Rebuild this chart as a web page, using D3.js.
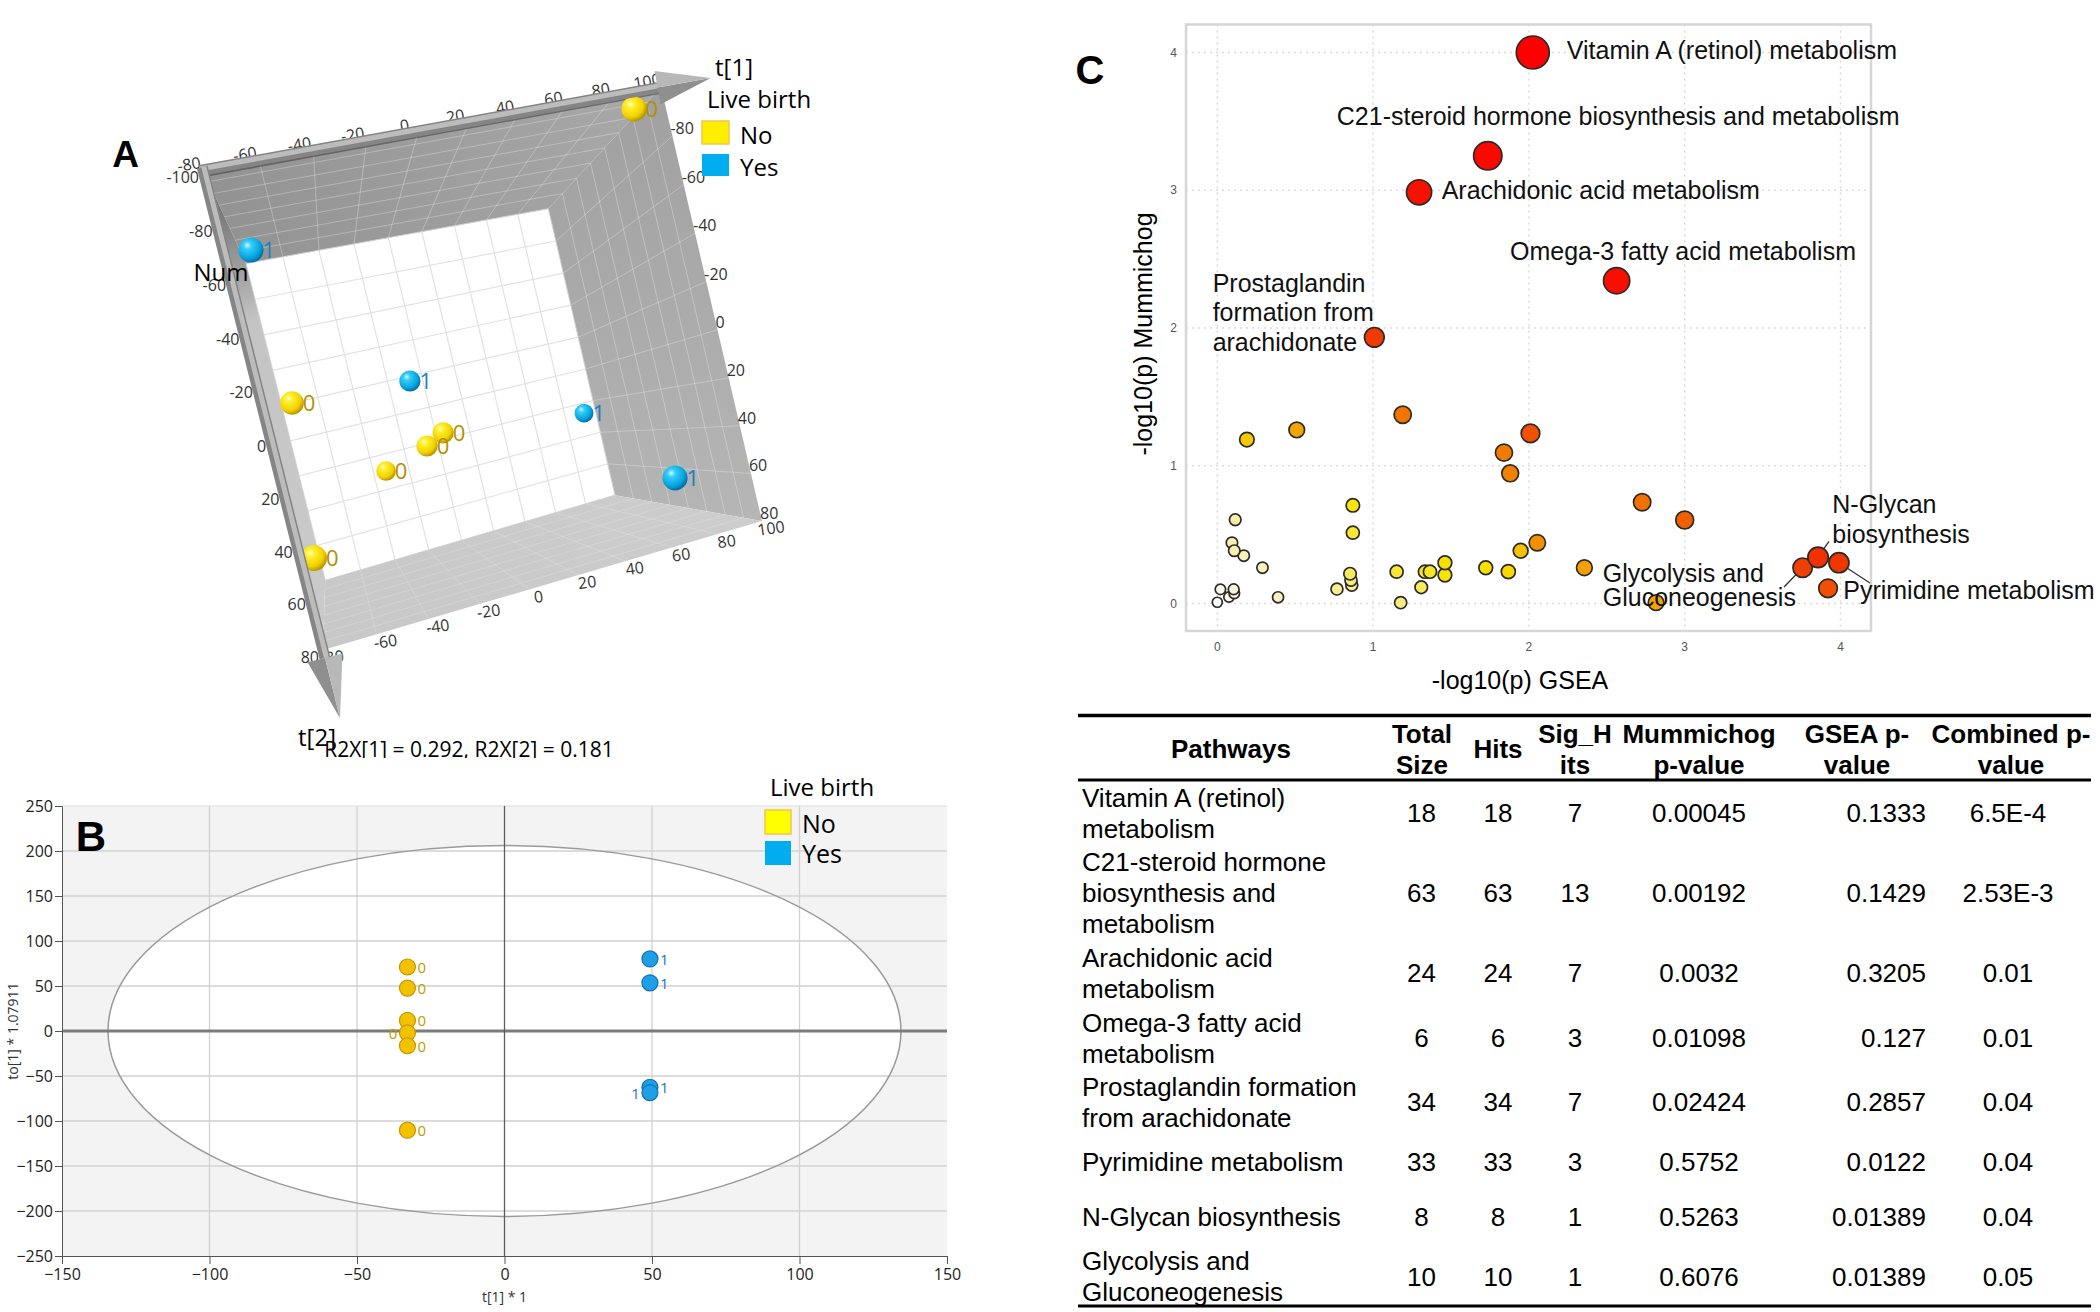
<!DOCTYPE html>
<html><head><meta charset="utf-8">
<script src="https://cdnjs.cloudflare.com/ajax/libs/d3/7.8.5/d3.min.js"></script>
<style>body{margin:0;background:#fff}svg{display:block}</style>
</head><body>
<svg id="fig" width="2100" height="1312"></svg>
<script>
// ================= DATA =================
// Panel A : 3D OPLS-DA score plot
const aGroup = ["No","Yes","Yes","No","Yes","No","No","No","Yes","No"];
const aT1    = [93.4,-70.9,-16.6,-70.5,84.3,-7.0,-16.0,-35.5,73.8,-75.2];
const aT2    = [-98.0,-71.6,-12.9,-12.9,25.0,14.9,19.1,27.5,55.6,46.4];
const aNum   = [-60.8,-60.8,16,-32,64,16,16,48,-60.8,-80];
const aT1Ticks  = [-80,-60,-40,-20,0,20,40,60,80,100];
const aT2Ticks  = [-100,-80,-60,-40,-20,0,20,40,60,80];
const aNumTicks = [-60,-40,-20,0,20,40,60];

// Panel B : 2D score plot
const bGroup = ["No","No","No","No","No","No","Yes","Yes","Yes","Yes"];
const bT1    = [-32.9,-32.9,-32.9,-32.9,-32.9,-32.9,49.3,49.3,49.3,49.3];
const bTo1   = [71.1,47.7,11.7,-2.0,-16.4,-110.2,80.1,53.5,-62.5,-68.4];
const bLabelSide = ["r","r","r","l","r","r","r","r","r","l"];
const bXTicks = [-150,-100,-50,0,50,100,150];
const bYTicks = [-250,-200,-150,-100,-50,0,50,100,150,200,250];

// Panel C : pathway scatter
const cX = [2.025,1.736,1.295,2.563,1.008,3.757,3.856,3.99,3.92,1.19,0.51,0.19,2.01,1.84,1.88,2.727,3.0,0.87,0.87,0.115,0.094,0.109,0.17,0.29,0.852,0.858,0.863,0.768,0.39,0.02,0.105,0.109,0.075,0.0,1.177,1.151,1.333,1.365,1.309,1.461,1.461,1.723,1.868,1.947,2.054,2.356,2.816];
const cY = [4.0,3.25,2.985,2.343,1.932,0.26,0.335,0.296,0.11,1.37,1.26,1.19,1.235,1.095,0.945,0.735,0.606,0.713,0.514,0.608,0.441,0.383,0.347,0.26,0.216,0.17,0.134,0.105,0.045,0.103,0.103,0.074,0.047,0.009,0.006,0.231,0.231,0.231,0.118,0.296,0.207,0.26,0.231,0.383,0.441,0.26,0.006];
const cScore = [3.2,2.55,2.1,2.25,1.35,1.3,1.45,1.4,1.2,1.0,0.78,0.63,1.2,0.98,0.95,1.02,1.1,0.48,0.42,0.22,0.2,0.2,0.18,0.17,0.35,0.3,0.28,0.27,0.15,0.06,0.1,0.08,0.05,0.0,0.3,0.42,0.44,0.44,0.36,0.52,0.5,0.52,0.56,0.66,0.88,0.8,0.78];
const cTicks = [0,1,2,3,4];
const cLabels = [
  {i:0, lines:["Vitamin A (retinol) metabolism"]},
  {i:1, lines:["C21-steroid hormone biosynthesis and metabolism"]},
  {i:2, lines:["Arachidonic acid metabolism"]},
  {i:3, lines:["Omega-3 fatty acid metabolism"]},
  {i:4, lines:["Prostaglandin","formation from","arachidonate"]},
  {i:5, lines:["Glycolysis and","Gluconeogenesis"]},
  {i:6, lines:["N-Glycan","biosynthesis"]},
  {i:7, lines:["Pyrimidine metabolism"]}
];

// Table
const tPathways = [["Vitamin A (retinol)","metabolism"],["C21-steroid hormone","biosynthesis and","metabolism"],["Arachidonic acid","metabolism"],["Omega-3 fatty acid","metabolism"],["Prostaglandin formation","from arachidonate"],["Pyrimidine metabolism"],["N-Glycan biosynthesis"],["Glycolysis and","Gluconeogenesis"]];
const tTotal = ["18","63","24","6","34","33","8","10"];
const tHits  = ["18","63","24","6","34","33","8","10"];
const tSig   = ["7","13","7","3","7","3","1","1"];
const tMumm  = ["0.00045","0.00192","0.0032","0.01098","0.02424","0.5752","0.5263","0.6076"];
const tGsea  = ["0.1333","0.1429","0.3205","0.127","0.2857","0.0122","0.01389","0.01389"];
const tComb  = ["6.5E-4","2.53E-3","0.01","0.01","0.04","0.04","0.04","0.05"];

// ================= RENDER =================
const svg = d3.select("#fig");
const defs = svg.append("defs");
const SANS = "'Open Sans','Noto Sans',sans-serif";
const ARIAL = "'Liberation Sans',Arial,sans-serif";

// ---------- Panel A ----------
(function(){
  const g = svg.append("g");
  const fTL=[203,170], fTR=[661,87], fBR=[762,521], fBL=[323,650];
  const VP=[329.6,445], BACK=0.66;
  function makeH(p0,p1,p2,p3){
    const [x0,y0]=p0,[x1,y1]=p1,[x2,y2]=p2,[x3,y3]=p3;
    const dx1=x1-x2, dy1=y1-y2, dx2=x3-x2, dy2=y3-y2, dx3=x0-x1+x2-x3, dy3=y0-y1+y2-y3;
    const den=dx1*dy2-dy1*dx2;
    const gg=(dx3*dy2-dy3*dx2)/den, hh=(dx1*dy3-dy1*dx3)/den;
    const a=x1-x0+gg*x1, b=x3-x0+hh*x3, d=y1-y0+gg*y1, e=y3-y0+hh*y3;
    return (u,v)=>{const q=gg*u+hh*v+1; return [(a*u+b*v+x0)/q,(d*u+e*v+y0)/q];};
  }
  const H = makeH(fTL,fTR,fBR,fBL);
  const uS = d3.scaleLinear().domain([-80,100]).range([0,1]);
  const vS = d3.scaleLinear().domain([-100,80]).range([0,1]);
  const wS = d3.scaleLinear().domain([-80,80]).range([0,1]);
  const rS = d3.scaleLinear().domain([-80,80]).range([13,9]);
  const P = (u,v,w)=>{const [x,y]=H(u,v); const s=1-(1-BACK)*w; return [VP[0]+s*(x-VP[0]), VP[1]+s*(y-VP[1])];};
  const path = pts => "M"+pts.map(p=>p[0].toFixed(2)+","+p[1].toFixed(2)).join("L")+"Z";

  function lg(id, x1,y1,x2,y2, stops){
    const l=defs.append("linearGradient").attr("id",id).attr("gradientUnits","userSpaceOnUse")
      .attr("x1",x1).attr("y1",y1).attr("x2",x2).attr("y2",y2);
    stops.forEach(s=>l.append("stop").attr("offset",s[0]).attr("stop-color",s[1]));
  }
  lg("gTop",203,170,661,87,[[0,"#929292"],[1,"#a9a9a9"]]);
  lg("gRight",661,87,762,521,[[0,"#a0a0a0"],[1,"#b6b6b6"]]);
  lg("gBottom",323,650,762,521,[[0,"#c8c8c8"],[1,"#cdcdcd"]]);
  lg("gLeft",203,170,323,650,[[0,"#5e5e5e"],[0.2,"#9a9a9a"],[0.32,"#c4c4c4"],[1,"#cbcbcb"]]);

  // walls
  g.append("path").attr("d",path([P(0,0,1),P(1,0,1),P(1,1,1),P(0,1,1)])).attr("fill","#ffffff");
  g.append("path").attr("d",path([P(0,0,0),P(1,0,0),P(1,0,1),P(0,0,1)])).attr("fill","url(#gTop)");
  g.append("path").attr("d",path([P(1,0,0),P(1,1,0),P(1,1,1),P(1,0,1)])).attr("fill","url(#gRight)");
  g.append("path").attr("d",path([P(0,1,0),P(1,1,0),P(1,1,1),P(0,1,1)])).attr("fill","url(#gBottom)");
  g.append("path").attr("d",path([P(0,0,0),P(0,1,0),P(0,1,1),P(0,0,1)])).attr("fill","url(#gLeft)");

  const line = (p,q,col,wd)=>g.append("line").attr("x1",p[0]).attr("y1",p[1]).attr("x2",q[0]).attr("y2",q[1]).attr("stroke",col).attr("stroke-width",wd);
  const wallCol="rgba(255,255,255,0.28)";
  const t1In = aT1Ticks.filter(t=>t>-80&&t<100), t2In = aT2Ticks.filter(t=>t>-100&&t<80);
  t1In.forEach(t=>line(P(uS(t),0,1),P(uS(t),1,1),"#e2e2e2",1.2));
  t2In.forEach(t=>line(P(0,vS(t),1),P(1,vS(t),1),"#e2e2e2",1.2));
  t1In.forEach(t=>line(P(uS(t),0,0),P(uS(t),0,1),wallCol,1));
  aNumTicks.forEach(n=>line(P(0,0,wS(n)),P(1,0,wS(n)),wallCol,1));
  t2In.forEach(t=>line(P(1,vS(t),0),P(1,vS(t),1),wallCol,1));
  aNumTicks.forEach(n=>line(P(1,0,wS(n)),P(1,1,wS(n)),wallCol,1));
  t1In.forEach(t=>line(P(uS(t),1,0),P(uS(t),1,1),"rgba(255,255,255,0.18)",1));
  aNumTicks.forEach(n=>line(P(0,1,wS(n)),P(1,1,wS(n)),"rgba(255,255,255,0.18)",1));
  g.append("path").attr("d",path([P(0,0,1),P(1,0,1),P(1,1,1),P(0,1,1)])).attr("fill","none").attr("stroke","#d0d0d0").attr("stroke-width",1);
  // shadow under the t1 rod
  line(P(0,0.012,0),P(1,0.012,0),"rgba(60,60,60,0.55)",2.5);

  function rg(id, stops){
    const r=defs.append("radialGradient").attr("id",id).attr("cx","38%").attr("cy","35%").attr("r","65%").attr("fx","35%").attr("fy","30%");
    stops.forEach(s=>r.append("stop").attr("offset",s[0]).attr("stop-color",s[1]));
  }
  rg("sY",[[0,"#fffbd2"],[0.25,"#fff02a"],[0.75,"#f2d000"],[1,"#b99600"]]);
  rg("sB",[[0,"#d2f6ff"],[0.25,"#35cdf8"],[0.75,"#06a4df"],[1,"#0071a8"]]);

  const tl = g.append("g").attr("font-family",SANS).attr("font-size",16).attr("fill","#333");
  aT1Ticks.forEach(t=>{const [x,y]=P(uS(t),0,0);
    tl.append("text").attr("transform",`translate(${x-14},${y-6}) rotate(-10)`).attr("text-anchor","middle").attr("dominant-baseline","central").text(t);});
  aT1Ticks.forEach(t=>{const [x,y]=P(uS(t),1,0);
    tl.append("text").attr("transform",`translate(${x+9},${y+7}) rotate(-8)`).attr("text-anchor","middle").attr("dominant-baseline","central").text(t);});
  aT2Ticks.filter(t=>t>-100).forEach(t=>{const [x,y]=P(1,vS(t),0);
    tl.append("text").attr("x",x-2).attr("y",y-8).attr("dominant-baseline","central").text(t);});
  aT2Ticks.forEach(t=>{const [x,y]=P(0,vS(t),0);
    tl.append("text").attr("x",x-4).attr("y",y+7).attr("text-anchor","end").attr("dominant-baseline","central").text(t);});

  const pts = aT1.map((t,i)=>({t1:t,t2:aT2[i],n:aNum[i],g:aGroup[i]}))
    .sort((a,b)=>wS(b.n)-wS(a.n));
  pts.forEach(d=>{
    const [x,y]=P(uS(d.t1),vS(d.t2),wS(d.n)); const r=rS(d.n);
    g.append("circle").attr("cx",x).attr("cy",y).attr("r",r).attr("fill",d.g==="No"?"url(#sY)":"url(#sB)");
    g.append("text").attr("x",x+r-1).attr("y",y+8).attr("font-family",SANS).attr("font-size",22)
      .attr("fill",d.g==="No"?"#b38f00":"#1d7fc0").text(d.g==="No"?"0":"1");
  });

  function rod(start, dirTo, len, coneLen, half){
    const dx=dirTo[0]-start[0], dy=dirTo[1]-start[1], L=Math.hypot(dx,dy);
    const d=[dx/L,dy/L], n=[-d[1],d[0]];
    const base=[start[0]+d[0]*(len-coneLen), start[1]+d[1]*(len-coneLen)];
    const tip=[start[0]+d[0]*len, start[1]+d[1]*len];
    const s0=[start[0]-d[0]*3,start[1]-d[1]*3];
    line(s0,base,"#858585",11);
    g.append("line").attr("x1",s0[0]-n[0]*1.5).attr("y1",s0[1]-n[1]*1.5).attr("x2",base[0]-n[0]*1.5).attr("y2",base[1]-n[1]*1.5).attr("stroke","#bcbcbc").attr("stroke-width",5);
    const b1=[base[0]+n[0]*half, base[1]+n[1]*half], b2=[base[0]-n[0]*half, base[1]-n[1]*half];
    g.append("path").attr("d",path([b1,tip,base])).attr("fill","#8f8f8f");
    g.append("path").attr("d",path([base,tip,b2])).attr("fill","#b8b8b8");
  }
  rod(fTL, fTR, 516, 54, 17);
  rod(fTL, fBL, 565, 62, 18);

  const tx = (x,y,s,opts)=>{const t=g.append("text").attr("x",x).attr("y",y).text(s).attr("font-family",SANS);
    Object.entries(opts||{}).forEach(([k,v])=>t.attr(k,v)); return t;};
  tx(125.7,167,"A",{"font-family":ARIAL,"font-weight":"bold","font-size":37,"text-anchor":"middle"});
  tx(221,271,"Num",{"font-size":24,"text-anchor":"middle","dominant-baseline":"central"});
  tx(734,66,"t[1]",{"font-size":24,"text-anchor":"middle","dominant-baseline":"central"});
  tx(707,98,"Live birth",{"font-size":24,"dominant-baseline":"central"});
  g.append("rect").attr("x",702).attr("y",121).attr("width",27).attr("height",23).attr("fill","#ffee00").attr("stroke","#f3c64a").attr("stroke-width",1.5);
  g.append("rect").attr("x",702).attr("y",154).attr("width",27).attr("height",22).attr("fill","#00adef");
  tx(740,134,"No",{"font-size":24,"dominant-baseline":"central"});
  tx(740,166,"Yes",{"font-size":24,"dominant-baseline":"central"});
  tx(317,736,"t[2]",{"font-size":24,"text-anchor":"middle","dominant-baseline":"central"});
  defs.append("clipPath").attr("id","r2clip").append("rect").attr("x",300).attr("y",720).attr("width",400).attr("height",38);
  tx(469,757,"R2X[1] = 0.292, R2X[2] = 0.181",{"font-size":21,"text-anchor":"middle","clip-path":"url(#r2clip)"});
})();

// ---------- Panel B ----------
(function(){
  const g = svg.append("g");
  const x = d3.scaleLinear().domain([-150,150]).range([62,947]);
  const y = d3.scaleLinear().domain([-250,250]).range([1256,806]);
  g.append("rect").attr("x",x(-150)).attr("y",y(250)).attr("width",x(150)-x(-150)).attr("height",y(-250)-y(250)).attr("fill","#f3f3f3");
  const ell = {cx:x(0), cy:y(0), rx:x(134.4)-x(0), ry:y(0)-y(206)};
  g.append("ellipse").attr("cx",ell.cx).attr("cy",ell.cy).attr("rx",ell.rx).attr("ry",ell.ry).attr("fill","#fff");
  bYTicks.filter(t=>t!==0&&Math.abs(t)<250).forEach(t=>g.append("line").attr("x1",x(-150)).attr("x2",x(150)).attr("y1",y(t)).attr("y2",y(t)).attr("stroke","#dcdcdc").attr("stroke-width",2.2));
  g.append("line").attr("x1",x(-150)).attr("x2",x(150)).attr("y1",y(250)).attr("y2",y(250)).attr("stroke","#e6e6e6").attr("stroke-width",1.5);
  bXTicks.filter(t=>t!==0&&Math.abs(t)<150).forEach(t=>g.append("line").attr("x1",x(t)).attr("x2",x(t)).attr("y1",y(250)).attr("y2",y(-250)).attr("stroke","#d2d2d2").attr("stroke-width",1.3));
  g.append("ellipse").attr("cx",ell.cx).attr("cy",ell.cy).attr("rx",ell.rx).attr("ry",ell.ry).attr("fill","none").attr("stroke","#9a9a9a").attr("stroke-width",1.5);
  g.append("line").attr("x1",x(-150)).attr("x2",x(150)).attr("y1",y(0)).attr("y2",y(0)).attr("stroke","#7c7c7c").attr("stroke-width",3);
  g.append("line").attr("x1",x(0)).attr("x2",x(0)).attr("y1",y(250)).attr("y2",y(-250)).attr("stroke","#5e5e5e").attr("stroke-width",1.3);

  const styleAx = a => { a.selectAll("path,line").attr("stroke","#555"); a.selectAll("text").attr("font-family",SANS).attr("font-size",16).attr("fill","#222"); };
  const ay = g.append("g").attr("transform",`translate(${x(-150)},0)`);
  ay.call(d3.axisLeft(y).tickValues(d3.range(-250,251,10)).tickSize(3.5).tickFormat(""));
  ay.call(d3.axisLeft(y).tickValues(bYTicks).tickSize(7).tickPadding(2)); styleAx(ay);
  const ax = g.append("g").attr("transform",`translate(0,${y(-250)})`);
  ax.call(d3.axisBottom(x).tickValues(d3.range(-150,151,10)).tickSize(4).tickFormat(""));
  ax.call(d3.axisBottom(x).tickValues(bXTicks).tickSize(8).tickPadding(5)); styleAx(ax);
  g.append("text").attr("x",x(0)).attr("y",1302).attr("text-anchor","middle").attr("font-family",SANS).attr("font-size",14).attr("fill","#333").text("t[1] * 1");
  g.append("text").attr("transform",`translate(18,${y(0)}) rotate(-90)`).attr("text-anchor","middle").attr("font-family",SANS).attr("font-size",14).attr("fill","#333").text("to[1] * 1.07911");

  bT1.forEach((v,i)=>{
    const no = bGroup[i]==="No", px=x(v), py=y(bTo1[i]);
    g.append("circle").attr("cx",px).attr("cy",py).attr("r",8).attr("fill",no?"#f2c200":"#1e9fe6").attr("stroke",no?"#c79400":"#1170b5").attr("stroke-width",1.2);
    g.append("text").attr("x",bLabelSide[i]==="r"?px+10:px-10).attr("y",py+6).attr("text-anchor",bLabelSide[i]==="r"?"start":"end")
      .attr("font-family",SANS).attr("font-size",15).attr("fill",no?"#c09a00":"#1a78c0").text(no?"0":"1");
  });

  g.append("text").attr("x",91).attr("y",851).attr("text-anchor","middle").attr("font-family",ARIAL).attr("font-weight","bold").attr("font-size",42).text("B");
  g.append("text").attr("x",770).attr("y",786).attr("dominant-baseline","central").attr("font-family",SANS).attr("font-size",24).text("Live birth");
  g.append("rect").attr("x",765).attr("y",810).attr("width",26).attr("height",24).attr("fill","#ffff00").attr("stroke","#f3c64a").attr("stroke-width",1.5);
  g.append("rect").attr("x",765).attr("y",841).attr("width",26).attr("height",24).attr("fill","#00adef");
  g.append("text").attr("x",802).attr("y",823).attr("dominant-baseline","central").attr("font-family",SANS).attr("font-size",25).text("No");
  g.append("text").attr("x",802).attr("y",853).attr("dominant-baseline","central").attr("font-family",SANS).attr("font-size",25).text("Yes");
})();

// ---------- Panel C ----------
(function(){
  const g = svg.append("g");
  const x = d3.scaleLinear().domain([0,4]).range([1217.3,1840.5]);
  const y = d3.scaleLinear().domain([0,4]).range([603.5,52.5]);
  const col = d3.scaleLinear()
    .domain([0,0.1,0.2,0.3,0.4,0.5,0.6,0.7,0.8,0.95,1.1,1.3,1.6,2.0,3.0])
    .range(["#ffffff","#fcf6d8","#f9f0b0","#f8ec80","#f8e840","#f8e400","#f8d000","#f7b800","#f5a000","#f38000","#f06000","#f04000","#f02400","#f41400","#ff0000"]).clamp(true);
  const rad = d3.scaleLinear().domain([0,3.2]).range([5,16.5]).clamp(true);
  const L=1186, R=1871, T=24.5, B=631;
  cTicks.forEach(t=>{
    g.append("line").attr("x1",x(t)).attr("x2",x(t)).attr("y1",T).attr("y2",B).attr("stroke","#dadada").attr("stroke-width",1.5).attr("stroke-dasharray","2,4");
    g.append("line").attr("x1",L).attr("x2",R).attr("y1",y(t)).attr("y2",y(t)).attr("stroke","#dadada").attr("stroke-width",1.5).attr("stroke-dasharray","2,4");
    g.append("text").attr("x",x(t)).attr("y",651).attr("text-anchor","middle").attr("font-family",ARIAL).attr("font-size",12).attr("fill","#555").text(t);
    g.append("text").attr("x",1177).attr("y",y(t)+4).attr("text-anchor","end").attr("font-family",ARIAL).attr("font-size",12).attr("fill","#555").text(t);
  });
  g.append("rect").attr("x",L).attr("y",T).attr("width",R-L).attr("height",B-T).attr("fill","none").attr("stroke","#d6d6d6").attr("stroke-width",2.5);
  g.append("text").attr("x",1520).attr("y",689).attr("text-anchor","middle").attr("font-family",ARIAL).attr("font-size",25).text("-log10(p) GSEA");
  g.append("text").attr("transform","translate(1152,334) rotate(-90)").attr("text-anchor","middle").attr("font-family",ARIAL).attr("font-size",25).text("-log10(p) Mummichog");
  g.append("text").attr("x",1090).attr("y",84).attr("text-anchor","middle").attr("font-family",ARIAL).attr("font-weight","bold").attr("font-size",40).text("C");

  const lay = {
    0:{dx:34,dy:6.8,lh:0}, 1:{dx:-151,dy:-30.8,lh:0}, 2:{dx:22.6,dy:7,lh:0}, 3:{dx:-106.6,dy:-20.8,lh:0},
    4:{dx:-161.7,dy:-45.4,lh:29.5}, 5:{dx:-199.9,dy:14.3,lh:24,ld:[-18.6,19.3]},
    6:{dx:14.2,dy:-44.1,lh:30,ld:[10.9,-15.9]}, 7:{dx:4.3,dy:36.3,lh:0,ld:[31,20.3]}
  };
  cLabels.forEach(l=>{const o=lay[l.i]; if(o.ld){const px=x(cX[l.i]),py=y(cY[l.i]);
    g.append("line").attr("x1",px+o.ld[0]).attr("y1",py+o.ld[1]).attr("x2",px).attr("y2",py).attr("stroke","#333").attr("stroke-width",1.3);}});

  const idx = d3.range(cX.length).sort((a,b)=>cScore[a]-cScore[b]);
  idx.forEach(i=>{
    g.append("circle").attr("cx",x(cX[i])).attr("cy",y(cY[i])).attr("r",rad(cScore[i])).attr("fill",col(cScore[i])).attr("stroke","#2b2b2b").attr("stroke-width",1.7);
  });
  cLabels.forEach(l=>{const o=lay[l.i], px=x(cX[l.i]), py=y(cY[l.i]);
    l.lines.forEach((s,k)=>g.append("text").attr("x",px+o.dx).attr("y",py+o.dy+k*o.lh).attr("font-family",ARIAL).attr("font-size",25).attr("fill","#111").text(s));
  });
})();

// ---------- Table ----------
(function(){
  const g = svg.append("g").attr("font-family",ARIAL).attr("font-size",26).attr("fill","#000");
  const hl = (y,w)=>g.append("line").attr("x1",1078).attr("x2",2091).attr("y1",y).attr("y2",y).attr("stroke","#000").attr("stroke-width",w);
  hl(715.5,3.5); hl(780,3); hl(1306,3);
  const head = [[1231,["Pathways"]],[1422,["Total","Size"]],[1498,["Hits"]],[1575,["Sig_H","its"]],[1699,["Mummichog","p-value"]],[1857,["GSEA p-","value"]],[2011,["Combined p-","value"]]];
  head.forEach(([cx,lines])=>lines.forEach((s,k)=>{
    const yy = lines.length===1?758:743+k*30.5;
    g.append("text").attr("x",cx).attr("y",yy).attr("text-anchor","middle").attr("font-weight","bold").text(s);
  }));
  const rowC = [813,893,973,1038,1102,1161.5,1216.5,1276.5];
  rowC.forEach((c,r)=>{
    const lines=tPathways[r];
    lines.forEach((s,k)=>g.append("text").attr("x",1082).attr("y",c+9+(k-(lines.length-1)/2)*31).text(s));
    const yy=c+9;
    g.append("text").attr("x",1421.5).attr("y",yy).attr("text-anchor","middle").text(tTotal[r]);
    g.append("text").attr("x",1498).attr("y",yy).attr("text-anchor","middle").text(tHits[r]);
    g.append("text").attr("x",1575).attr("y",yy).attr("text-anchor","middle").text(tSig[r]);
    g.append("text").attr("x",1699).attr("y",yy).attr("text-anchor","middle").text(tMumm[r]);
    g.append("text").attr("x",1926).attr("y",yy).attr("text-anchor","end").text(tGsea[r]);
    g.append("text").attr("x",2008).attr("y",yy).attr("text-anchor","middle").text(tComb[r]);
  });
})();
</script>
</body></html>
